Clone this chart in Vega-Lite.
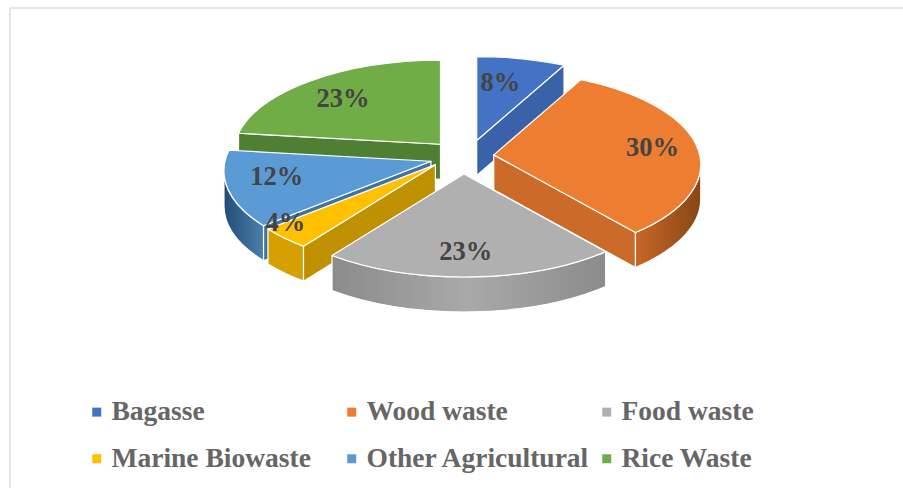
{
  "$schema": "https://vega.github.io/schema/vega-lite/v6.json",
  "width": 903,
  "height": 488,
  "padding": 0,
  "autosize": "none",
  "background": "#ffffff",
  "view": {"stroke": null},
  "data": {"values": [
    {"category": "Bagasse", "value": 8},
    {"category": "Wood waste", "value": 30},
    {"category": "Food waste", "value": 23},
    {"category": "Marine Biowaste", "value": 4},
    {"category": "Other Agricultural", "value": 12},
    {"category": "Rice Waste", "value": 23}
  ]},
  "transform": [
    {"joinaggregate": [{"op": "sum", "field": "value", "as": "total"}]},
    {"window": [{"op": "sum", "field": "value", "as": "cum"}]},
    {"calculate": "360 * (datum.cum - datum.value) / datum.total", "as": "a"},
    {"calculate": "360 * datum.cum / datum.total", "as": "b"},
    {"calculate": "(datum.a + datum.b) / 2 * PI / 180", "as": "mid"},
    {"calculate": "463 + 31 * sin(datum.mid) + {'Bagasse': 6, 'Wood waste': 0, 'Food waste': 0, 'Marine Biowaste': -5, 'Other Agricultural': -2, 'Rice Waste': -2}[datum.category]", "as": "apexX"},
    {"calculate": "157 - 17 * cos(datum.mid) + {'Bagasse': 0, 'Wood waste': 0, 'Food waste': 0, 'Marine Biowaste': -4, 'Other Agricultural': 0, 'Rice Waste': 0}[datum.category]", "as": "apexY"},
    {"calculate": "datum.a * PI / 180", "as": "ra"},
    {"calculate": "datum.b * PI / 180", "as": "rb"},
    {"calculate": "(datum.a - (cos(datum.ra) > 0.001 ? (sin(datum.ra) > 0 ? 8 : 5.5) * sin(datum.ra) : 0)) * PI / 180", "as": "fa"},
    {"calculate": "(datum.b - (cos(datum.rb) > 0.001 ? (sin(datum.rb) > 0 ? 8 : 5.5) * sin(datum.rb) : 0)) * PI / 180", "as": "fb"},
    {"calculate": "round(207 * sin(datum.fa) * 100) / 100", "as": "x1"},
    {"calculate": "round((9.5 - 93.5 * cos(datum.fa)) * 100) / 100", "as": "y1"},
    {"calculate": "round(207 * sin(datum.fb) * 100) / 100", "as": "x2"},
    {"calculate": "round((9.5 - 93.5 * cos(datum.fb)) * 100) / 100", "as": "y2"},
    {"calculate": "'M0,0L' + datum.x1 + ',' + datum.y1 + 'A207,93.5,0,' + (datum.fb - datum.fa > PI ? 1 : 0) + ',1,' + datum.x2 + ',' + datum.y2 + 'Z'", "as": "topPath"},
    {"calculate": "max(datum.a, 90) * PI / 180", "as": "wa"},
    {"calculate": "min(datum.b, 270) * PI / 180", "as": "wb"},
    {"calculate": "round(207 * sin(datum.wa) * 100) / 100", "as": "wx1"},
    {"calculate": "round((9.5 - 93.5 * cos(datum.wa)) * 100) / 100", "as": "wy1"},
    {"calculate": "round(207 * sin(datum.wb) * 100) / 100", "as": "wx2"},
    {"calculate": "round((9.5 - 93.5 * cos(datum.wb)) * 100) / 100", "as": "wy2"},
    {"calculate": "datum.wa < datum.wb ? 'M' + datum.wx1 + ',' + datum.wy1 + 'A207,93.5,0,0,1,' + datum.wx2 + ',' + datum.wy2 + 'L' + datum.wx2 + ',' + (datum.wy2 + 35) + 'A207,93.5,0,0,0,' + datum.wx1 + ',' + (datum.wy1 + 35) + 'Z' : 'M0,0'", "as": "wallPath"},
    {"calculate": "sin(datum.rb) > 0.001 ? datum.x2 : (sin(datum.ra) < -0.001 ? datum.x1 : 0)", "as": "ex"},
    {"calculate": "sin(datum.rb) > 0.001 ? datum.y2 : (sin(datum.ra) < -0.001 ? datum.y1 : 0)", "as": "ey"},
    {"calculate": "datum.ex != 0 ? 'M0,0L' + datum.ex + ',' + datum.ey + 'L' + datum.ex + ',' + (datum.ey + 35) + 'L0,35Z' : 'M0,0'", "as": "cutPath"},
    {"calculate": "{'Bagasse': 0, 'Wood waste': 1, 'Food waste': 2, 'Marine Biowaste': 5, 'Other Agricultural': 4, 'Rice Waste': 3}[datum.category]", "as": "cutOrder"},
    {"calculate": "{'Bagasse': '#3a62a8', 'Wood waste': '#cc6a2a', 'Food waste': '#8c8c8c', 'Marine Biowaste': '#bf9000', 'Other Agricultural': '#3f72a5', 'Rice Waste': '#4f7f32'}[datum.category]", "as": "cutFill"},
    {"calculate": "{gradient: 'linear', x1: 0, y1: 0, x2: 1, y2: 0, stops: {'Bagasse': [{offset: 0, color: '#3a62a8'}, {offset: 1, color: '#3a62a8'}], 'Wood waste': [{offset: 0, color: '#c96628'}, {offset: 1, color: '#874714'}], 'Food waste': [{offset: 0, color: '#8b8b8b'}, {offset: 0.5, color: '#a9a9a9'}, {offset: 1, color: '#8b8b8b'}], 'Marine Biowaste': [{offset: 0, color: '#d6a100'}, {offset: 1, color: '#d6a100'}], 'Other Agricultural': [{offset: 0, color: '#234c74'}, {offset: 1, color: '#4a80ae'}], 'Rice Waste': [{offset: 0, color: '#4f7f32'}, {offset: 1, color: '#4f7f32'}]}[datum.category]}", "as": "wallFill"},
    {"calculate": "datum.apexX + 155 * sin(datum.mid) + {'Bagasse': -15, 'Wood waste': 5, 'Food waste': -3, 'Marine Biowaste': -37, 'Other Agricultural': -4, 'Rice Waste': 5}[datum.category]", "as": "labelX"},
    {"calculate": "datum.apexY + 9.5 - 70 * cos(datum.mid) + {'Bagasse': 1, 'Wood waste': -8, 'Food waste': -1, 'Marine Biowaste': 1, 'Other Agricultural': -11, 'Rice Waste': -2}[datum.category]", "as": "labelY"},
    {"calculate": "datum.value + '%'", "as": "label"}
  ],
  "layer": [
    {
      "data": {"values": [{"edge": "top"}]},
      "mark": {"type": "rule", "color": "#e6e6e6", "strokeWidth": 2},
      "encoding": {
        "x": {"datum": 10, "type": "quantitative", "scale": {"domain": [0, 903], "range": [0, 903], "nice": false, "zero": false}, "axis": null},
        "x2": {"datum": 903},
        "y": {"datum": 8, "type": "quantitative", "scale": {"domain": [0, 488], "range": [0, 488], "nice": false, "zero": false}, "axis": null}
      }
    },
    {
      "data": {"values": [{"edge": "left"}]},
      "mark": {"type": "rule", "color": "#e6e6e6", "strokeWidth": 2},
      "encoding": {
        "x": {"datum": 10, "type": "quantitative", "axis": null},
        "y": {"datum": 8, "type": "quantitative", "axis": null},
        "y2": {"datum": 488}
      }
    },
    {
      "mark": {"type": "point", "filled": true, "opacity": 1, "stroke": "#ffffff", "strokeWidth": 1.2, "strokeJoin": "round"},
      "encoding": {
        "x": {"field": "apexX", "type": "quantitative", "axis": null},
        "y": {"field": "apexY", "type": "quantitative", "axis": null},
        "size": {"value": 4},
        "order": {"field": "cutOrder", "type": "quantitative"},
        "shape": {"field": "cutPath", "type": "nominal", "scale": null, "legend": null},
        "fill": {"field": "cutFill", "type": "nominal", "scale": null, "legend": null}
      }
    },
    {
      "mark": {"type": "point", "filled": true, "opacity": 1, "stroke": "#ffffff", "strokeWidth": 1.2, "strokeJoin": "round"},
      "encoding": {
        "x": {"field": "apexX", "type": "quantitative", "axis": null},
        "y": {"field": "apexY", "type": "quantitative", "axis": null},
        "size": {"value": 4},
        "shape": {"field": "wallPath", "type": "nominal", "scale": null, "legend": null},
        "fill": {"field": "wallFill", "type": "nominal", "scale": null, "legend": null}
      }
    },
    {
      "mark": {"type": "point", "filled": true, "opacity": 1, "stroke": "#ffffff", "strokeWidth": 1.2, "strokeJoin": "round"},
      "encoding": {
        "x": {"field": "apexX", "type": "quantitative", "axis": null},
        "y": {"field": "apexY", "type": "quantitative", "axis": null},
        "size": {"value": 4},
        "shape": {"field": "topPath", "type": "nominal", "scale": null, "legend": null},
        "color": {
          "field": "category",
          "type": "nominal",
          "scale": {
            "domain": ["Bagasse", "Wood waste", "Food waste", "Marine Biowaste", "Other Agricultural", "Rice Waste"],
            "range": ["#4472c4", "#ed7d31", "#b0b0b0", "#ffc000", "#5b9bd5", "#70ad47"]
          },
          "legend": {
            "orient": "none",
            "legendX": 83,
            "legendY": 398,
            "title": null,
            "columns": 3,
            "direction": "horizontal",
            "gridAlign": "all",
            "columnPadding": 2,
            "rowPadding": 18,
            "symbolType": "square",
            "symbolSize": 81,
            "symbolStrokeWidth": 0,
            "labelFont": "Liberation Serif",
            "labelFontWeight": "bold",
            "labelFontSize": 27.5,
            "labelColor": "#666666",
            "labelOffset": 1,
            "labelLimit": 400
          }
        }
      }
    },
    {
      "mark": {"type": "text", "font": "Liberation Serif", "fontWeight": "bold", "fontSize": 26.5, "color": "#444444", "align": "center", "baseline": "middle"},
      "encoding": {
        "x": {"field": "labelX", "type": "quantitative", "axis": null},
        "y": {"field": "labelY", "type": "quantitative", "axis": null},
        "text": {"field": "label", "type": "nominal"}
      }
    }
  ]
}
